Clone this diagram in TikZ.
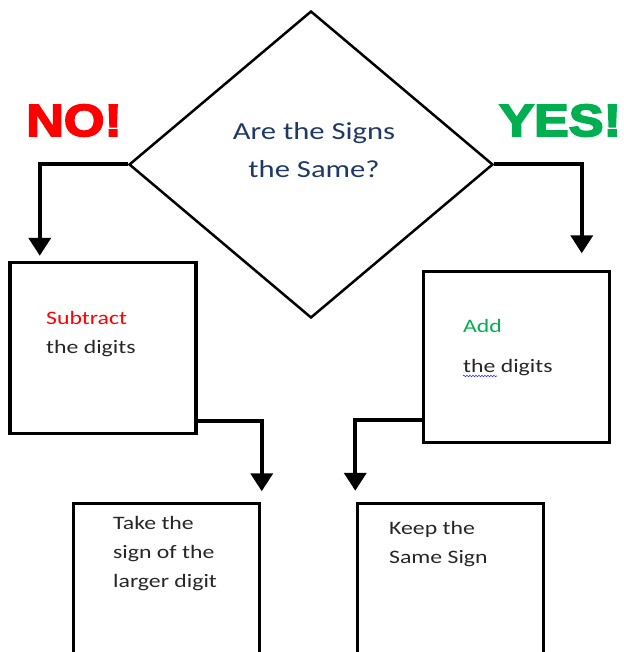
\documentclass[tikz,border=0pt]{standalone}
\usepackage{fontspec}
\usepackage{xcolor}
\usetikzlibrary{shapes.geometric, arrows.meta, positioning, calc, decorations.pathmorphing}
\newfontfamily\bodyfont[FakeStretch=1.25]{Carlito}
\newfontfamily\shoutfont[FakeStretch=1.16,FakeBold=4]{Liberation Sans}
\definecolor{nored}{HTML}{FF0000}
\definecolor{yesgreen}{HTML}{00B050}
\definecolor{qblue}{HTML}{1F3864}
\definecolor{textgray}{HTML}{262626}

\begin{document}
\begin{tikzpicture}[
    x=1pt, y=-1pt,
    decision/.style={diamond, draw=black, line width=2.5pt, minimum width=364pt, minimum height=307pt, inner sep=0pt, aspect=1.19},
    box/.style={rectangle, draw=black, line width=3.5pt, minimum width=186pt, minimum height=171pt, inner sep=0pt},
    shout/.style={font={\shoutfont\bfseries\fontsize{45pt}{50pt}\selectfont}, inner sep=0pt},
    bodytext/.style={font={\bodyfont\fontsize{19pt}{29pt}\selectfont}, text=textgray, align=left, inner sep=0pt},
    qtext/.style={font={\bodyfont\fontsize{24.5pt}{38pt}\selectfont}, text=qblue, align=center, inner sep=0pt},
    arrow/.style={line width=4pt, -{Triangle[width=22pt,length=18pt]}}
]
\useasboundingbox (0,0) rectangle (623,652);
\clip (0,0) rectangle (623,652);

% Decision
\node (question) [decision] at (311,164.5) {};
\node (qtxt) [qtext, anchor=base] at (314,178) {Are the Signs\\the Same?};

% Answers
\node (no) [shout, text=nored, anchor=base west] at (26,136) {NO!};
\node (yes) [shout, text=yesgreen, anchor=base west] at (499,136) {YES!};

% Steps
\node (subtract) [box] at (103,348) {};
\node (add) [box] at (516.5,357) {};
\node (larger) [box] at (166.5,589) {};
\node (keep) [box] at (450.5,589) {};

% Step texts (base = last line)
\node (subtxt) [bodytext, anchor=base west] at (46,353) {\textcolor{nored}{Subtract}\\the digits};
\node (addtxt) [bodytext, font={\bodyfont\fontsize{19pt}{40pt}\selectfont}, anchor=base west] at (463,372) {\textcolor{yesgreen}{Add}\\the digits};
\node (largertxt) [bodytext, anchor=base west] at (113,587) {Take the\\sign of the\\larger digit};
\node (keeptxt) [bodytext, anchor=base west] at (389,563) {Keep the\\Same Sign};

% spell check mark
\draw [blue!80, line width=0.6pt, decorate, decoration={snake, amplitude=0.8pt, segment length=3pt}]
    (463,376) -- (497,376);

% Arrows
\draw [arrow, shorten >=5pt] (question.west) -| ([xshift=31.5pt]subtract.north west);
\draw [arrow, shorten >=16.5pt] (question.east) -| ([xshift=-29.5pt]add.north east);
\draw [arrow, shorten >=10.5pt] ([yshift=14.5pt]subtract.south east) -| ([xshift=0.5pt]larger.north east);
\draw [arrow, shorten >=11pt] ([yshift=24.5pt]add.south west) -| ([xshift=-0.5pt]keep.north west);

\end{tikzpicture}
\end{document}
